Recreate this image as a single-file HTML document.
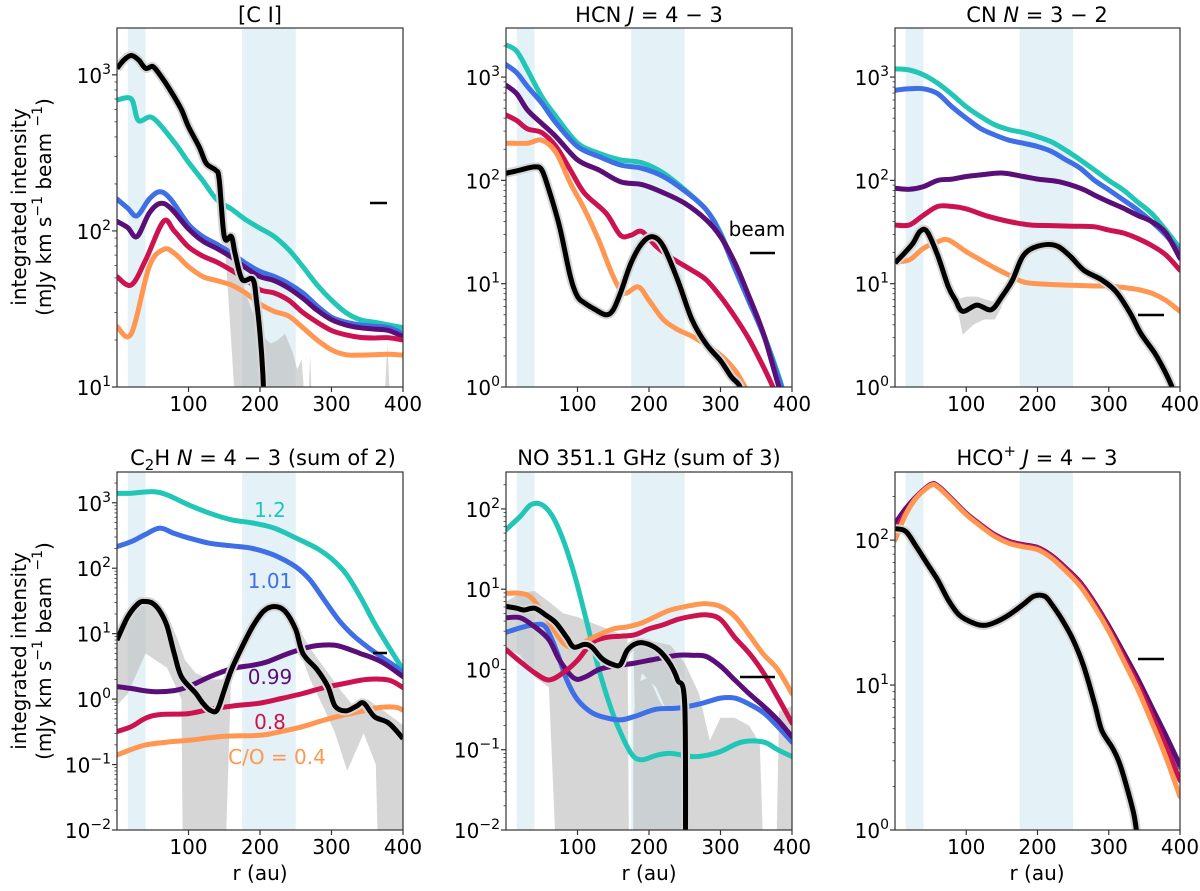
<!DOCTYPE html>
<html><head><meta charset="utf-8"><style>
body{margin:0;background:#fff}
svg text{font-family:"DejaVu Sans","Liberation Sans",sans-serif;fill:#000}
</style></head><body>
<svg id="fig" width="1200" height="886" viewBox="0 0 1200 886" xmlns="http://www.w3.org/2000/svg"></svg>
<script>
// ---------- data (r in au, intensity in mJy km/s/beam) ----------
const ciTeal=[[0,690],[20,700],[30,510],[50,530],[80,370],[100,275],[120,210],[140,158],[160,138],[180,118],[200,104],[220,92],[240,76],[260,59],[280,45],[300,36],[320,30],[340,27],[360,26],[380,25],[400,24]];
const ciBlue=[[0,160],[15,140],[28,125],[45,160],[60,178],[75,160],[100,110],[120,92],[140,82],[160,72],[180,62],[200,55],[220,51],[240,46],[260,40],[280,33],[300,28],[320,26],[340,25],[360,24.5],[380,24],[400,22]];
const ciPurple=[[0,115],[15,105],[28,92],[45,130],[60,150],[75,140],[100,103],[120,86],[140,77],[160,68],[180,58],[200,51],[220,48],[240,43],[260,37],[280,31],[300,27],[320,25],[340,24],[360,23.5],[380,23],[400,21]];
const ciRed=[[0,51],[20,45],[40,65],[65,115],[80,100],[100,79],[120,69],[140,63],[160,56],[180,49],[200,42],[220,40],[240,36],[260,30],[280,26],[300,23],[320,21.6],[340,20.8],[360,20.6],[380,20.7],[400,20]];
const ciOrange=[[0,24.4],[20,22],[45,59],[65,76],[80,72],[100,59],[120,51],[140,48],[160,45],[180,40],[200,34],[220,30.5],[240,28.5],[260,24],[280,20],[300,17.3],[320,16.1],[340,16],[360,16.1],[380,16.2],[400,16]];
const ciBlack=[[0,1100],[10,1250],[20,1330],[30,1250],[40,1100],[50,1130],[60,1000],[75,790],[90,600],[100,465],[115,345],[125,270],[138,245],[143,213],[150,92],[160,92],[165,72],[175,49],[190,49],[195,36],[200,22],[204,12],[207,5]];
const ciGray=[[150,95],[160,80],[172,55],[180,40],[190,30],[200,22],[215,19],[225,20],[235,22],[245,17],[252,13],[258,15],[262,9],[265,5],[168,5]];
const ciGray2=[[266,5],[270,16],[274,5]];
const ciGray3=[[372,5],[378,19],[384,5]];

const hcnTeal=[[0,2050],[15,1780],[30,1170],[50,645],[70,415],[100,230],[130,183],[160,158],[190,148],[220,118],[250,81],[280,52],[300,31],[320,14.6],[340,7],[360,3.3],[380,1.36],[390,0.8]];
const hcnBlue=[[0,1320],[15,1100],[30,810],[50,560],[70,360],[100,213],[130,170],[160,141],[190,131],[220,109],[250,79],[280,52],[300,30],[320,14],[340,6.7],[360,3.2],[380,1.3],[390,0.8]];
const hcnPurple=[[0,835],[15,690],[30,480],[50,355],[70,265],[100,158],[130,126],[160,97],[190,91],[220,76],[250,60],[280,41.5],[300,28.5],[320,16],[340,7.5],[360,3.3],[380,1.1],[390,0.7]];
const hcnRed=[[0,430],[15,380],[30,315],[50,290],[70,213],[90,126],[110,75],[140,48],[160,29.5],[175,29.5],[190,32],[210,23],[230,18],[260,13.5],[280,10.9],[300,7.5],[320,4.8],[340,2.9],[360,1.57],[375,0.95],[385,0.7]];
const hcnOrange=[[0,229],[30,229],[50,245],[70,186],[90,94],[110,52],[130,26],[150,11.7],[165,8.1],[185,9.3],[200,6.9],[220,4.5],[240,3.6],[260,3.1],[280,2.55],[300,2.04],[320,1.46],[335,0.98],[345,0.7]];
const hcnBlack=[[0,117],[20,126],[40,135],[50,126],[60,81],[75,35.5],[90,11.7],[100,7.5],[110,6.5],[125,5.6],[140,5.0],[150,5.6],[160,8.1],[175,15.9],[190,24.5],[205,28.5],[220,23],[240,10.9],[260,4.5],[280,2.6],[300,1.8],[315,1.26],[325,1.07],[330,0.9],[334,0.7]];

const cnTeal=[[0,1200],[20,1170],[40,1050],[60,870],[80,680],[100,515],[120,415],[140,345],[160,310],[180,290],[200,265],[220,235],[240,195],[260,158],[280,126],[300,100],[320,81],[340,62],[360,48],[380,33],[400,22]];
const cnBlue=[[0,745],[20,770],[40,770],[60,690],[80,515],[100,400],[120,318],[140,275],[160,245],[180,229],[200,213],[220,190],[240,158],[260,131],[280,100],[300,81],[320,65],[340,52],[360,40],[380,29.5],[400,20.4]];
const cnPurple=[[0,84],[20,82],[40,87],[60,100],[80,103],[100,109],[120,113],[150,118],[180,109],[200,103],[230,97],[260,84],[280,72],[300,62],[320,54],[340,46],[360,40],[380,31],[400,17.6]];
const cnRed=[[0,37],[20,37],[40,46],[60,56],[80,56],[100,53],[130,45],[160,40],[190,37],[220,36.5],[250,36],[280,35.5],[300,33],[320,31],[340,27.5],[360,23.5],[380,19],[400,13.5]];
const cnOrange=[[0,16.3],[20,17],[40,22],[60,25.5],[75,26.5],[100,20.4],[120,17],[140,14.2],[160,12.1],[180,10.4],[200,10],[240,9.7],[280,9.5],[300,9.5],[320,9.2],[340,8.8],[360,8.1],[380,6.9],[400,5.4]];
const cnBlack=[[0,15.9],[10,18.7],[25,24.5],[35,32],[45,32],[60,18.7],[75,9.3],[85,6.9],[95,5.4],[115,6.2],[135,5.6],[150,7.5],[165,10.9],[180,18.7],[200,23],[225,23.5],[245,18.7],[265,13.5],[290,10.9],[310,8.4],[330,5.2],[345,3.3],[365,2.1],[380,1.36],[390,0.95],[395,0.7]];
const cnGray=[[85,7],[95,3.2],[110,4],[125,4.5],[140,4.5],[150,6],[140,6.6],[115,7.5],[100,7.5]];

const c2hTeal=[[0,1390],[20,1400],[50,1480],[70,1320],[100,930],[130,690],[160,550],[190,490],[220,410],[250,290],[280,200],[300,140],[320,83],[340,37],[360,14.5],[380,6.3],[400,2.8]];
const c2hBlue=[[0,215],[20,255],[40,330],[60,410],[80,340],[100,290],[130,240],[160,220],[190,200],[220,158],[250,105],[270,66],[290,32.5],[310,16.2],[330,9.5],[350,6.3],[370,4.4],[390,3.1],[400,2.5]];
const c2hPurple=[[0,1.55],[20,1.45],[50,1.3],[80,1.35],[100,1.55],[130,2.2],[160,2.9],[190,3.3],[210,3.7],[240,5.0],[270,6.3],[290,6.7],[310,6.5],[340,5.0],[370,3.7],[400,2.2]];
const c2hRed=[[0,0.32],[20,0.38],[40,0.51],[60,0.58],[100,0.6],[130,0.7],[160,0.78],[200,0.87],[230,1.02],[260,1.22],[290,1.5],[320,1.75],[350,2.0],[380,1.95],[400,1.5]];
const c2hOrange=[[0,0.14],[20,0.17],[40,0.2],[70,0.22],[100,0.235],[150,0.27],[200,0.28],[230,0.32],[260,0.38],[290,0.48],[320,0.58],[350,0.68],[370,0.75],[390,0.75],[400,0.68]];
const c2hBlack=[[0,8],[15,18],[30,29],[40,31],[50,29],[60,22],[70,13],[80,5],[90,2.2],[110,1.23],[120,0.87],[130,0.68],[140,0.68],[150,1.37],[160,2.8],[175,6.3],[190,13],[205,22],[220,26],[235,22],[250,11.5],[260,5],[280,2.8],[295,1.55],[305,0.78],[320,0.66],[335,0.78],[345,0.87],[360,0.54],[380,0.43],[400,0.25]];
const c2hGray=[[0,10],[10,20],[30,36],[50,35],[70,20],[85,8],[95,4],[110,2.5],[130,2],[150,2],[160,3],[152,0.005],[92,0.005],[90,1],[70,3],[40,5],[15,1.2],[0,0.8]];
const c2hGray2=[[250,14],[270,6],[290,3],[310,1.5],[330,0.8],[350,1],[370,0.7],[400,0.4],[400,0.005],[365,0.005],[362,0.1],[345,0.3],[322,0.08],[305,0.3],[290,0.7],[270,2],[250,8]];

const noTeal=[[0,55],[20,81],[35,113],[50,113],[65,81],[80,41],[95,16],[110,5],[125,1.45],[140,0.5],[155,0.21],[175,0.09],[190,0.075],[210,0.085],[230,0.09],[260,0.082],[280,0.085],[300,0.095],[330,0.125],[360,0.125],[380,0.1],[400,0.082]];
const noBlue=[[0,2.9],[20,3.3],[40,3.6],[55,3.4],[70,1.77],[85,0.74],[100,0.42],[120,0.29],[140,0.25],[160,0.235],[180,0.26],[210,0.32],[240,0.33],[270,0.37],[300,0.44],[320,0.44],[340,0.37],[360,0.29],[380,0.195],[400,0.125]];
const noPurple=[[0,4.4],[20,4.4],[40,3.4],[60,2.35],[75,1.3],[95,0.78],[110,0.8],[130,1.0],[150,1.1],[180,1.2],[210,1.35],[240,1.5],[260,1.5],[280,1.45],[300,1.1],[320,0.74],[340,0.5],[360,0.35],[380,0.235],[400,0.145]];
const noRed=[[0,1.77],[20,1.25],[40,0.91],[60,0.74],[80,0.91],[100,1.3],[120,2.14],[140,2.5],[160,2.6],[180,2.7],[200,3.2],[220,3.6],[240,4.2],[260,4.6],[280,4.8],[300,4.2],[320,2.5],[340,1.6],[360,0.91],[380,0.45],[400,0.215]];
const noOrange=[[0,8.9],[20,8.9],[35,7.9],[50,5.3],[65,3.3],[80,2.14],[95,1.86],[110,2.2],[130,2.7],[150,3.2],[170,3.4],[190,3.8],[210,4.6],[230,5.5],[260,6.3],[280,6.6],[300,6.1],[320,4.6],[340,2.7],[360,1.55],[380,1.0],[400,0.5]];
const noBlack=[[0,6.1],[15,5.8],[25,5.5],[40,5.8],[55,4.8],[70,3.8],[85,2.5],[95,1.9],[110,2.05],[120,1.9],[135,1.35],[150,1.15],[160,1.15],[170,1.75],[185,2.14],[200,2.05],[215,1.7],[230,1.15],[240,0.74],[250,0.35],[251,0.003]];
const noGray=[[0,7],[20,9],[40,9.5],[60,7],[80,5],[100,4.5],[130,3.5],[150,3],[170,2.6],[172,0.005],[70,0.005],[60,0.6],[40,0.8],[20,1.5],[0,1.8]];
const noGray2=[[178,2.4],[200,2.3],[230,2],[250,1.2],[270,0.5],[285,0.13],[300,0.25],[320,0.25],[340,0.2],[355,0.12],[360,0.005],[178,0.005],[178,0.25],[185,0.7],[200,0.8],[215,0.4],[225,0.3],[210,0.6],[190,0.9],[180,0.35]];
const noGray3=[[378,0.005],[382,0.3],[400,0.35],[400,0.005]];

const hcoTeal=[[0,128],[15,160],[30,199],[50,240],[60,235],[80,190],[100,152],[120,127],[140,108],[160,97],[180,92],[200,88],[220,77],[240,63],[260,50],[280,36],[300,25],[320,16.5],[340,10.7],[360,6.7],[380,4.2],[400,2.7]];
const hcoBlue=[[0,128],[15,160],[30,199],[50,240],[60,235],[80,190],[100,152],[120,127],[140,108],[160,97],[180,92],[200,88],[220,77],[240,63],[260,50],[280,36],[300,25],[320,16.5],[340,10.7],[360,6.7],[380,4.2],[400,2.7]];
const hcoPurple=[[0,130],[15,165],[30,200],[50,242],[60,237],[80,192],[100,153],[120,128],[140,109],[160,98],[180,93],[200,89],[220,78],[240,64],[260,51],[280,37],[300,25.5],[320,17],[340,11.2],[360,7.1],[380,4.5],[400,2.8]];
const hcoRed=[[0,115],[15,155],[30,198],[50,240],[60,235],[80,190],[100,152],[120,127],[140,108],[160,97],[180,92],[200,88],[220,77],[240,63],[260,50],[280,36],[300,24.5],[320,16],[340,10.3],[360,6.3],[380,3.8],[400,2.2]];
const hcoOrange=[[0,100],[15,150],[30,196],[50,238],[60,233],[80,188],[100,150],[120,125],[140,106],[160,95],[180,90],[200,86],[220,75],[240,61],[260,48],[280,34.5],[300,23.5],[320,15],[340,9.5],[360,5.6],[380,3.2],[400,1.7]];
const hcoBlack=[[0,120],[15,115],[30,90],[45,69],[60,53],[75,38.5],[90,30.5],[110,26.8],[125,25.8],[140,27],[160,30.5],[180,36],[195,41],[210,41],[220,36],[235,28],[250,20.5],[265,13.4],[280,7.5],[290,4.9],[305,3.7],[315,2.9],[325,2.0],[335,1.3],[340,0.9],[343,0.7]];

const xTicks=[100,200,300,400];
const bandsR=[[15,40],[175,250]];
const cols={teal:'#22c6b6',blue:'#3f6fe6',purple:'#5a0e78',red:'#cc1350',orange:'#ff9652'};

// ---------- rendering ----------
const NS='http://www.w3.org/2000/svg';
const svg=document.getElementById('fig');
function mk(tag,attrs,parent){const e=document.createElementNS(NS,tag);for(const k in attrs)e.setAttribute(k,attrs[k]);(parent||svg).appendChild(e);return e;}

const panels=[
 {id:'ci',x0:117,x1:403,y0:28,y1:387,lmin:1,lmax:3.30,series:[ciTeal,ciBlue,ciPurple,ciRed,ciOrange],black:ciBlack,grays:[ciGray,ciGray2,ciGray3],beam:[370,387,203]},
 {id:'hcn',x0:506,x1:792,y0:28,y1:387,lmin:0,lmax:3.475,series:[hcnTeal,hcnBlue,hcnPurple,hcnRed,hcnOrange],black:hcnBlack,grays:[],beam:[750,775,253]},
 {id:'cn',x0:895,x1:1180,y0:28,y1:387,lmin:0,lmax:3.475,series:[cnTeal,cnBlue,cnPurple,cnRed,cnOrange],black:cnBlack,grays:[cnGray],beam:[1138,1164,315]},
 {id:'c2h',x0:117,x1:403,y0:472,y1:830,lmin:-2,lmax:3.47,series:[c2hTeal,c2hBlue,c2hPurple,c2hRed,c2hOrange],black:c2hBlack,grays:[c2hGray,c2hGray2],beam:[373,387,653]},
 {id:'no',x0:506,x1:792,y0:472,y1:830,lmin:-2,lmax:2.46,series:[noTeal,noBlue,noPurple,noRed,noOrange],black:noBlack,grays:[noGray,noGray2,noGray3],beam:[740,775,677]},
 {id:'hco',x0:895,x1:1180,y0:472,y1:830,lmin:0,lmax:2.47,series:[hcoTeal,hcoBlue,hcoPurple,hcoRed,hcoOrange],black:hcoBlack,grays:[],beam:[1138,1164,659]}
];
const colorOrder=['teal','blue','purple','red','orange'];

function crPath(pts){
  let d='M'+pts[0][0].toFixed(1)+','+pts[0][1].toFixed(1);
  for(let i=0;i<pts.length-1;i++){
    const p0=pts[Math.max(0,i-1)],p1=pts[i],p2=pts[i+1],p3=pts[Math.min(pts.length-1,i+2)];
    const c1=[p1[0]+(p2[0]-p0[0])/6,p1[1]+(p2[1]-p0[1])/6];
    const c2=[p2[0]-(p3[0]-p1[0])/6,p2[1]-(p3[1]-p1[1])/6];
    d+=' C'+c1[0].toFixed(1)+','+c1[1].toFixed(1)+' '+c2[0].toFixed(1)+','+c2[1].toFixed(1)+' '+p2[0].toFixed(1)+','+p2[1].toFixed(1);
  }
  return d;
}

panels.forEach((p,pi)=>{
  const xs=r=>p.x0+(r/400)*(p.x1-p.x0);
  const ys=v=>p.y1-(Math.log10(v)-p.lmin)/(p.lmax-p.lmin)*(p.y1-p.y0);
  const g=mk('g',{});
  
  
  const cp=mk('clipPath',{id:'clip'+pi},g);
  mk('rect',{x:p.x0,y:p.y0,width:p.x1-p.x0,height:p.y1-p.y0},cp);
  const plot=mk('g',{'clip-path':'url(#clip'+pi+')'},g);
  bandsR.forEach((b,bi)=>{
    const r=mk('rect',{x:xs(b[0]),y:p.y0,width:xs(b[1])-xs(b[0]),height:p.y1-p.y0,fill:'#e4f2f8'},plot);
    
    
  });
  p.grays.forEach((poly,gi)=>{
    const e=mk('polygon',{points:poly.map(q=>xs(q[0]).toFixed(1)+','+ys(q[1]).toFixed(1)).join(' '),fill:'#bbbbbb','fill-opacity':'0.6'},plot);
    
    
  });
  p.series.forEach((s,si)=>{
    const e=mk('path',{d:crPath(s.map(q=>[xs(q[0]),ys(q[1])])),fill:'none',stroke:cols[colorOrder[si]],'stroke-width':5,'stroke-linejoin':'round','stroke-linecap':'round'},plot);
    
    
  });
  const bp=p.black.map(q=>[xs(q[0]),ys(q[1])]);
  const halo=mk('path',{d:crPath(bp),fill:'none',stroke:'#d6d6d6','stroke-width':9,'stroke-linejoin':'round'},plot);
  
  
  const bl=mk('path',{d:crPath(bp),fill:'none',stroke:'#000','stroke-width':5,'stroke-linejoin':'round'},plot);
  
  
  const bb=mk('line',{x1:p.beam[0],x2:p.beam[1],y1:p.beam[2],y2:p.beam[2],stroke:'#000','stroke-width':2.5},g);
  
  
  const fr=mk('rect',{x:p.x0,y:p.y0,width:p.x1-p.x0,height:p.y1-p.y0,fill:'none',stroke:'#333','stroke-width':1.2},g);
  
  
  xTicks.forEach(t=>{
    const x=xs(t);
    mk('line',{x1:x,x2:x,y1:p.y1,y2:p.y1+5,stroke:'#333','stroke-width':1.2},g);
    const tx=mk('text',{x:x,y:p.y1+24,'text-anchor':'middle','font-size':20},g);
    tx.textContent=t;
    
    
  });
  for(let d=Math.floor(p.lmin);d<=Math.ceil(p.lmax);d++){
    for(let m=1;m<10;m++){
      const lv=d+Math.log10(m);
      if(lv<p.lmin-1e-6||lv>p.lmax)continue;
      const y=p.y1-(lv-p.lmin)/(p.lmax-p.lmin)*(p.y1-p.y0);
      mk('line',{x1:p.x0,x2:p.x0-(m===1?5:2.5),y1:y,y2:y,stroke:'#333','stroke-width':m===1?1.2:0.8},g);
      if(m===1){
        const tx=mk('text',{x:p.x0-6,y:y+8,'text-anchor':'end','font-size':20},g);
        
        
        const a=mk('tspan',{},tx);a.textContent='10';
        const b=mk('tspan',{dy:-9,'font-size':14},tx);b.textContent=(d<0?'\u2212':'')+Math.abs(d);
      }
    }
  }
});

function title(x,y,parts,name){
  const t=mk('text',{x:x,y:y,'text-anchor':'middle','font-size':21});
  
  
  parts.forEach(pt=>{const s=mk('tspan',pt.a||{},t);s.textContent=pt.t;});
}
title(260,22,[{t:'[C I]'}],'title-ci');
title(649,22,[{t:'HCN '},{t:'J',a:{'font-style':'italic'}},{t:' = 4 \u2212 3'}],'title-hcn');
title(1037,22,[{t:'CN '},{t:'N',a:{'font-style':'italic'}},{t:' = 3 \u2212 2'}],'title-cn');
title(263,465,[{t:'C'},{t:'2',a:{'font-size':15,dy:5}},{t:'H ',a:{dy:-5}},{t:'N',a:{'font-style':'italic'}},{t:' = 4 \u2212 3 (sum of 2)'}],'title-c2h');
title(649,465,[{t:'NO 351.1 GHz (sum of 3)'}],'title-no');
title(1037,465,[{t:'HCO'},{t:'+',a:{'font-size':15,dy:-9}},{t:' ',a:{dy:9}},{t:'J',a:{'font-style':'italic'}},{t:' = 4 \u2212 3'}],'title-hco');

function ylab(cy,name){
  const g=mk('g',{transform:'translate(0,'+cy+') rotate(-90)'});
  
  
  const a=mk('text',{x:0,y:26,'text-anchor':'middle','font-size':20},g);a.textContent='integrated intensity';
  const b=mk('text',{x:0,y:51,'text-anchor':'middle','font-size':20},g);
  const t1=mk('tspan',{},b);t1.textContent='(mJy km s';
  const t2=mk('tspan',{dy:-9,'font-size':14},b);t2.textContent='\u22121';
  const t3=mk('tspan',{dy:9},b);t3.textContent=' beam ';
  const t4=mk('tspan',{dy:-9,'font-size':14},b);t4.textContent='\u22121';
  const t5=mk('tspan',{dy:9},b);t5.textContent=')';
}
ylab(207,'y-axis-title-top');
ylab(651,'y-axis-title-bottom');

[260,649,1037].forEach((x,i)=>{
  const t=mk('text',{x:x,y:880,'text-anchor':'middle','font-size':20});
  t.textContent='r (au)';
  
  
});

function ann(x,y,txt,fill,name){
  const t=mk('text',{x:x,y:y,'text-anchor':'middle','font-size':20,fill:fill,style:'fill:'+fill});
  t.textContent=txt;
  
  
}
ann(757,236,'beam','#000','beam-label');
ann(270,517,'1.2',cols.teal,'label-co-1-2');
ann(270,588,'1.01',cols.blue,'label-co-1-01');
ann(270,684,'0.99',cols.purple,'label-co-0-99');
ann(270,729,'0.8',cols.red,'label-co-0-8');
ann(277,764,'C/O = 0.4',cols.orange,'label-co-0-4');
</script>
</body></html>
